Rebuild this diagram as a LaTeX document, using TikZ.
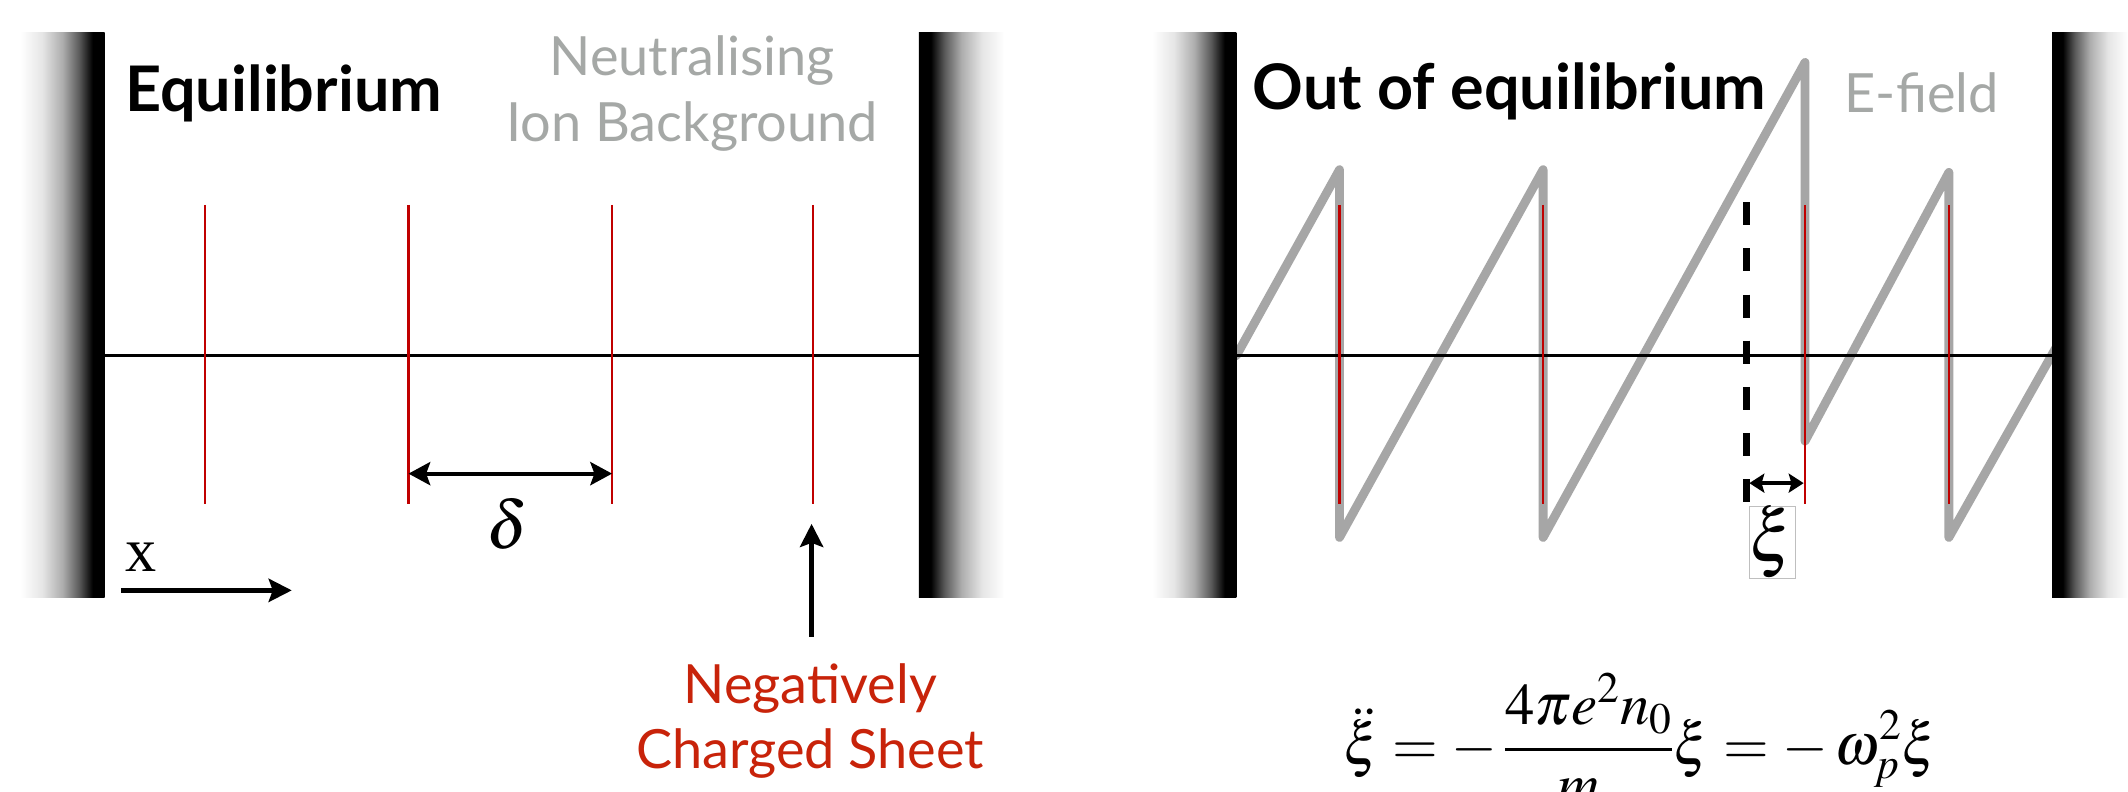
\documentclass[tikz,border=0pt]{standalone}
\usepackage{mathptmx}
\usepackage[no-math]{fontspec}
\setmainfont{Lato}
\newfontfamily\serifx{Liberation Serif}
\usetikzlibrary{arrows.meta}
\definecolor{sheetred}{RGB}{192,0,0}
\definecolor{textred}{RGB}{200,35,10}
\definecolor{fieldgray}{RGB}{166,166,166}
\definecolor{lblgray}{RGB}{165,168,166}
\pgfdeclarehorizontalshading{wallshade}{100bp}{color(0bp)=(white); color(25bp)=(white); color(38bp)=(white!90!black); color(50bp)=(white!68!black); color(60bp)=(white!35!black); color(68bp)=(black); color(100bp)=(black)}
\tikzset{
  wall/.style={shading=wallshade, draw=none},
  wallR/.style={shading=wallshade, shading angle=180, draw=none},
  axisline/.style={draw=black, line width=2.5bp},
  sheet/.style={draw=sheetred, line width=1.6bp},
  field/.style={draw=fieldgray, line width=6.5bp, line cap=round, line join=round},
  title/.style={font=\bfseries\fontsize{46.5}{54}\selectfont, inner sep=0pt},
  lbl/.style={font=\fontsize{40}{48}\selectfont, inner sep=0pt},
  dim/.style={draw=black, line width=3bp, {Stealth[length=16bp,width=17bp,inset=3bp]}-{Stealth[length=16bp,width=17bp,inset=3bp]}},
  smalldim/.style={draw=black, line width=3bp, {Stealth[length=11bp,width=14bp,inset=2bp]}-{Stealth[length=11bp,width=14bp,inset=2bp]}},
  pointer/.style={draw=black, line width=3.5bp, -{Stealth[length=17bp,width=17bp,inset=3bp]}},
  dashedline/.style={draw=black, line width=5bp, dash pattern=on 17bp off 17bp},
}
\begin{document}
\begin{tikzpicture}[x=1bp,y=-1bp]
\clip (0,0) rectangle (1568,583);
\fill[white] (0,0) rectangle (1568,583);
% ---------- left panel ----------
\shade[wall] (15,24) rectangle (77,440);
\shade[wallR] (677,24) rectangle (740,440);
\coordinate (la) at (77,262);
\coordinate (lb) at (681,262);
\draw[axisline] (la) -- (lb);
\foreach \i/\x in {1/151,2/301,3/451,4/599}{
  \coordinate (s\i t) at (\x,151);
  \coordinate (s\i b) at (\x,371);
  \draw[sheet] (s\i t) -- (s\i b);
}
\coordinate (d1) at (301,349);
\coordinate (d2) at (451,349);
\draw[dim] (d1) -- (d2);
\node[inner sep=0pt, font=\fontsize{50}{58}\selectfont] (delta) at (374,386) {$\delta$};
\node[inner sep=0pt, anchor=base, font=\serifx\fontsize{46}{54}\selectfont] (xl) at (104,421) {x};
\coordinate (x1) at (89,435);
\coordinate (x2) at (215,435);
\draw[pointer] (x1) -- (x2);
\node[title, anchor=base west] (eq) at (92,82) {Equilibrium};
\node[lbl, text=lblgray, anchor=base] (neu1) at (510,56) {Neutralising};
\node[lbl, text=lblgray, anchor=base] (neu2) at (510,104) {Ion Background};
\node[lbl, text=textred, anchor=base] (neg1) at (597,518) {Negatively};
\node[lbl, text=textred, anchor=base] (neg2) at (597,566) {Charged Sheet};
\coordinate (pt) at (598,386);
\coordinate (pb) at (598,469);
\draw[pointer] (pb) -- (pt);
% ---------- right panel ----------
\draw[field] (911,262) -- (987,125) -- (987,396) -- (1137,125) -- (1137,396)
  -- (1330,46) -- (1330,325) -- (1436,127) -- (1436,396) -- (1515,256);
\shade[wall] (849,24) rectangle (911,440);
\shade[wallR] (1512,24) rectangle (1568,440);
\coordinate (ra) at (911,262);
\coordinate (rb) at (1520,262);
\draw[axisline] (ra) -- (rb);
\foreach \i/\x in {1/987,2/1137,3/1330,4/1436}{
  \coordinate (r\i t) at (\x,151);
  \coordinate (r\i b) at (\x,371);
  \draw[sheet] (r\i t) -- (r\i b);
}
\coordinate (eqt) at (1287,149);
\coordinate (eqb) at (1287,370);
\draw[dashedline] (eqt) -- (eqb);
\coordinate (xi1) at (1289,356);
\coordinate (xi2) at (1329,356);
\draw[smalldim] (xi1) -- (xi2);
\node[draw=black!25, line width=0.8bp, minimum width=30bp, minimum height=51bp, inner sep=0pt, font=\fontsize{54}{60}\selectfont] (xi) at (1306,399.5) {$\xi$};
\node[title, anchor=base west] (oeq) at (923,81) {Out of equilibrium};
\node[lbl, text=lblgray, anchor=base west] (ef) at (1359,83) {E-field};
\node[inner sep=0pt, font=\fontsize{43.5}{52}\selectfont] (eqn) at (1209,548) {$\displaystyle \ddot{\xi} = -\,\frac{4\pi e^2 n_0}{m_e}\xi = -\,\omega_p^2\xi$};
\end{tikzpicture}
\end{document}
